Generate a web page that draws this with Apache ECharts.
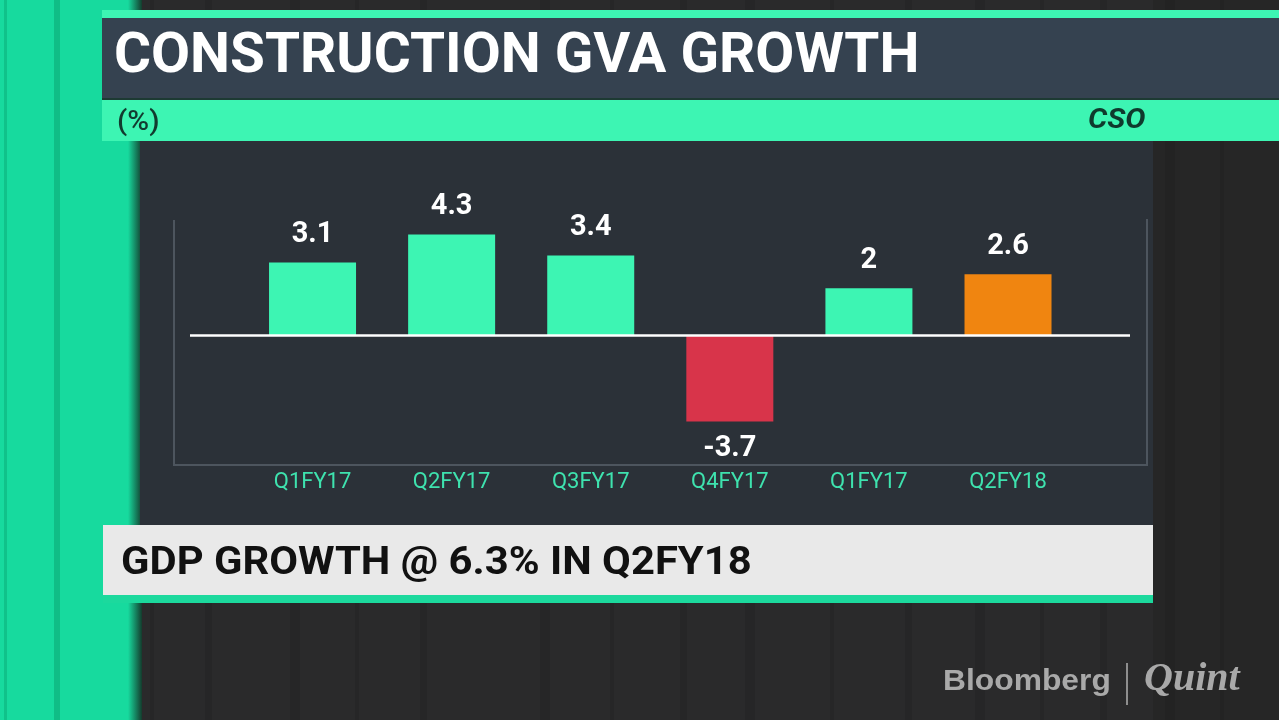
<!DOCTYPE html>
<html>
<head>
<meta charset="utf-8">
<script src="https://cdn.jsdelivr.net/npm/echarts@6/dist/echarts.min.js"></script>
<style>
  html, body { margin: 0; padding: 0; background: #2a2a2b; }
  #chart { width: 1279px; height: 720px; }
</style>
</head>
<body>
<div id="chart"></div>
<script>
  var categories = ['Q1FY17', 'Q2FY17', 'Q3FY17', 'Q4FY17', 'Q1FY17', 'Q2FY18'];
  var growth = [3.1, 4.3, 3.4, -3.7, 2, 2.6];
  var highlightIndex = 5;

  var GREEN = '#3df5b3';
  var RED = '#d8344a';
  var ORANGE = '#f08510';

  var chart = echarts.init(document.getElementById('chart'));

  var barData = growth.map(function (v, i) {
    return {
      value: [i, v],
      label: { position: v < 0 ? 'bottom' : 'top' }
    };
  });

  // faint vertical stripes in the studio backdrop
  var stripes = [];
  [150, 205, 290, 355, 420, 540, 610, 680, 745, 830, 905, 975, 1040, 1100, 1165, 1220].forEach(function (x, k) {
    stripes.push({
      type: 'rect', z: -19,
      shape: { x: x, y: 0, width: 4 + (k % 3) * 3, height: 720 },
      style: { fill: 'rgba(0,0,0,0.08)' }
    });
  });

  var option = {
    backgroundColor: '#2a2a2b',
    animation: false,
    graphic: stripes.concat([
      // right-hand darker backdrop
      { type: 'rect', z: -20, shape: { x: 1153, y: 0, width: 126, height: 720 }, style: { fill: '#262626' } },
      // left green panel
      { type: 'rect', z: -5, shape: { x: 0, y: 0, width: 140, height: 720 }, style: { fill: '#17da9e' } },
      { type: 'rect', z: -4, shape: { x: 4, y: 0, width: 3, height: 720 }, style: { fill: '#10c28a' } },
      { type: 'rect', z: -4, shape: { x: 54, y: 0, width: 6, height: 720 }, style: { fill: '#10bd86' } },
      {
        type: 'rect', z: -4, shape: { x: 128, y: 0, width: 14, height: 720 },
        style: { fill: new echarts.graphic.LinearGradient(0, 0, 1, 0, [
          { offset: 0, color: 'rgba(23,218,158,1)' },
          { offset: 1, color: 'rgba(20,60,45,1)' }
        ]) }
      },
      // chart panel
      { type: 'rect', z: -3, shape: { x: 140, y: 141, width: 1013, height: 384 }, style: { fill: '#2b3138' } },
      // title block
      { type: 'rect', z: -2, shape: { x: 102, y: 10, width: 1177, height: 8 }, style: { fill: '#3df5b3' } },
      { type: 'rect', z: -2, shape: { x: 102, y: 18, width: 1177, height: 80 }, style: { fill: '#354250' } },
      { type: 'rect', z: -2, shape: { x: 102, y: 98, width: 1177, height: 43 }, style: { fill: '#3df5b3' } },
      { type: 'rect', z: -2, shape: { x: 102, y: 98, width: 1177, height: 2 }, style: { fill: '#1d3a33' } },
      {
        type: 'text', z: 5, x: 114, y: 31, scaleX: 1.03,
        style: { text: 'CONSTRUCTION GVA GROWTH', fill: '#ffffff', font: 'bold 55px Roboto' }
      },
      {
        type: 'text', z: 5, x: 117, y: 110, scaleX: 1.1,
        style: { text: '(%)', fill: '#123b2f', font: '500 27px Roboto' }
      },
      {
        type: 'text', z: 5, x: 1088, y: 107, scaleX: 1.08,
        style: { text: 'CSO', fill: '#0f3a2d', font: 'italic bold 28px Roboto' }
      },
      // plot frame (left, bottom, right)
      {
        type: 'polyline', z: 1,
        shape: { points: [[174, 220], [174, 465], [1147, 465], [1147, 219]] },
        style: { stroke: '#4d555e', lineWidth: 2, fill: null }
      },
      // footer strap
      { type: 'rect', z: -2, shape: { x: 103, y: 525, width: 1050, height: 70 }, style: { fill: '#e9e9e9' } },
      { type: 'rect', z: -2, shape: { x: 103, y: 595, width: 1050, height: 8 }, style: { fill: '#1cd99d' } },
      {
        type: 'text', z: 5, x: 121, y: 545, scaleX: 1.1,
        style: { text: 'GDP GROWTH @ 6.3% IN Q2FY18', fill: '#111111', font: 'bold 38px Roboto' }
      },
      // logo
      {
        type: 'text', z: 5, x: 943, y: 667, scaleX: 1.06,
        style: { text: 'Bloomberg', fill: '#a9a9a9', font: 'bold 30px "Liberation Sans"' }
      },
      { type: 'rect', z: 5, shape: { x: 1126, y: 663, width: 2, height: 42 }, style: { fill: '#8e8e8e' } },
      {
        type: 'text', z: 5, x: 1144, y: 660,
        style: { text: 'Quint', fill: '#a9a9a9', font: 'italic bold 40px "Liberation Serif"' }
      }
    ]),
    grid: {
      left: 190,
      top: 220,
      width: 940,
      height: 245
    },
    xAxis: {
      type: 'value',
      min: -0.881,
      max: 5.877,
      axisLine: { show: false },
      axisTick: { show: false },
      splitLine: { show: false },
      axisLabel: {
        customValues: categories.map(function (c, i) { return i; }),
        formatter: function (v) { return categories[Math.round(v)]; },
        color: '#3ee2ae',
        fontFamily: 'Roboto',
        fontSize: 22,
        margin: 6
      }
    },
    yAxis: {
      type: 'value',
      min: -5.556,
      max: 4.915,
      show: false,
      splitLine: { show: false }
    },
    series: [{
      type: 'bar',
      barWidth: 87,
      data: barData,
      itemStyle: {
        color: function (p) {
          if (p.value[1] < 0) return RED;
          return p.dataIndex === highlightIndex ? ORANGE : GREEN;
        }
      },
      label: {
        show: true,
        distance: 13,
        color: '#ffffff',
        fontFamily: 'Roboto',
        fontWeight: 'bold',
        fontSize: 29,
        formatter: function (p) { return String(p.value[1]); }
      },
      markLine: {
        silent: true,
        symbol: 'none',
        label: { show: false },
        lineStyle: { color: '#ffffff', width: 2.5, type: 'solid' },
        data: [{ yAxis: 0 }]
      }
    }]
  };

  chart.setOption(option);
</script>
</body>
</html>
